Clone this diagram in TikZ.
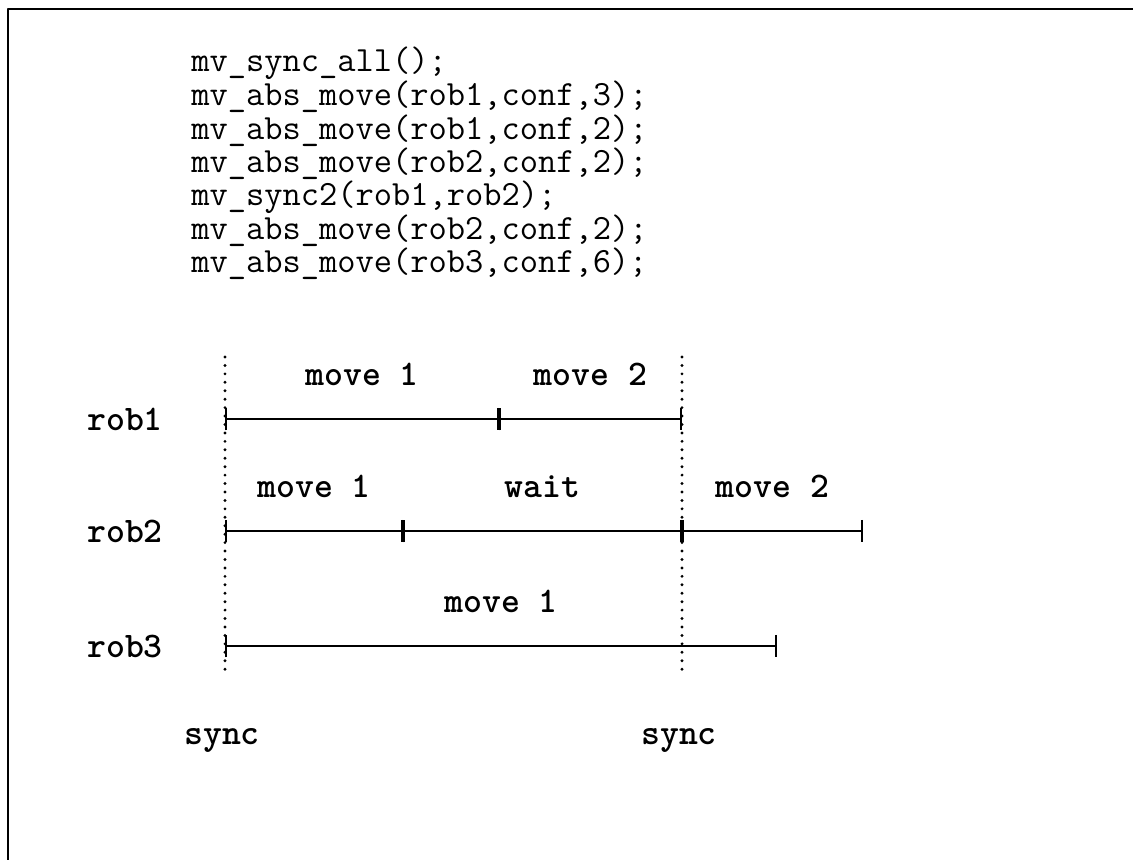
\documentclass[tikz,border=0pt]{standalone}
\usepackage{fontspec}
\usetikzlibrary{arrows.meta}
\begin{document}
\begin{tikzpicture}[x=0.025cm, y=-0.025cm, font=\ttfamily\fontsize{25.2}{22.26}\selectfont, line join=round, line cap=round]
	\tikzset{
	lbl/.style={font=\ttfamily\bfseries\fontsize{25.6}{30}\selectfont, inner sep=0pt},
	seg/.style={line width=1.6pt, {Bar[width=16pt,line width=1.6pt]}-{Bar[width=16pt,line width=1.6pt]}},
	syncline/.style={line width=2.3pt, dash pattern=on 0pt off 6pt},
	}
	\useasboundingbox (0,0) rectangle (1133,860);
	\draw[line width=2.1pt, line cap=rect] (1133,9) -- (8,9) -- (8,860);
	\node[anchor=north west, align=left, inner sep=0pt] (code) at (191,47) {mv\_sync\_all();\\
	mv\_abs\_move(rob1,conf,3);\\
	mv\_abs\_move(rob1,conf,2);\\
	mv\_abs\_move(rob2,conf,2);\\
	mv\_sync2(rob1,rob2);\\
	mv\_abs\_move(rob2,conf,2);\\
	mv\_abs\_move(rob3,conf,6);};
	\coordinate (S1) at (225,357); \coordinate (S1e) at (225,673);
	\coordinate (S2) at (682,357); \coordinate (S2e) at (682,673);
	\draw[syncline] (S1) -- (S1e);
	\draw[syncline] (S2) -- (S2e);
	\foreach \r/\y in {1/419,2/531,3/646}{
	\node[lbl] (rob\r) at (125,\y) {rob\r};
	\coordinate (A\r) at (225,\y);
	};
	\coordinate (B1) at (499,419); \coordinate (C1) at (682,419);
	\coordinate (B2) at (403,531); \coordinate (C2) at (682,531); \coordinate (D2) at (863,531);
	\coordinate (C3) at (777,646);
	\draw[seg] (A1) -- node[lbl, midway, above=0.8cm] (m11) {move 1} (B1);
	\draw[seg] (B1) -- node[lbl, midway, above=0.8cm] (m12) {move 2} (C1);
	\draw[seg] (A2) -- node[lbl, midway, above=0.8cm] (m21) {move 1} (B2);
	\draw[seg] (B2) -- node[lbl, midway, above=0.8cm] (w2) {wait} (C2);
	\draw[seg] (C2) -- node[lbl, midway, above=0.8cm] (m22) {move 2} (D2);
	\draw[seg] (A3) -- node[lbl, midway, above=0.8cm] (m31) {move 1} (C3);
	\path (S1e) ++(-3,71) node[lbl, anchor=base] (sync1) {sync};
	\path (S2e) ++(-3,71) node[lbl, anchor=base] (sync2) {sync};
\end{tikzpicture}
\end{document}
